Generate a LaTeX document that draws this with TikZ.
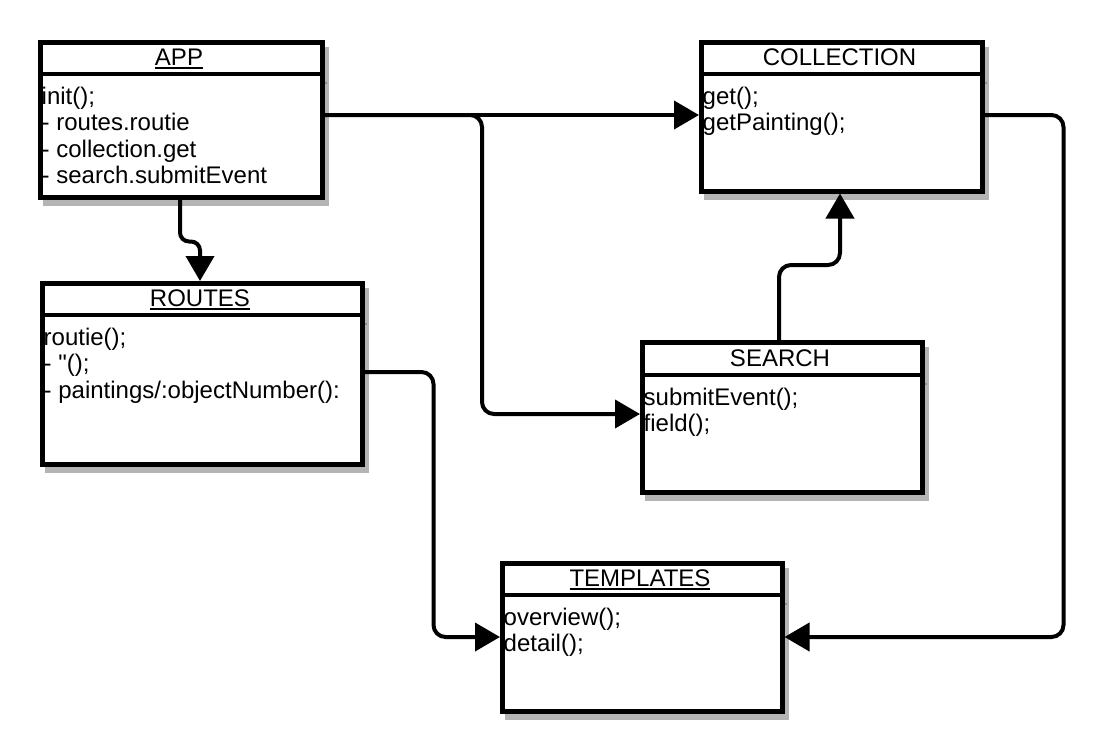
\documentclass[tikz,border=0pt]{standalone}
\usepackage{fontspec}
\newfontfamily\arialish{Liberation Sans}
\setmainfont{Liberation Sans}
\usetikzlibrary{arrows.meta,calc}
\definecolor{shadowgray}{RGB}{180,180,180}
\definecolor{sepgray}{RGB}{140,140,140}
\newcommand\titleul[1]{\setbox0\hbox{#1}\rlap{\rule[-3.5pt]{\wd0}{2pt}}\box0}
\newcommand\firstline{\rule{0pt}{20pt}}
% #1 name, #2 left, #3 top, #4 width, #5 height, #6 title height, #7 title, #8 body
\newcommand\umlclass[8]{%
  \draw[shade] (#2+7,#3+9) rectangle (#2+#4+7,#3+#5+9);
  \draw[sepshadow] (#2+#4+2,#3+#6+9) -- (#2+#4+7,#3+#6+9);
  \node[classbox, minimum width=#4, minimum height=#5] (#1) at (#2,#3) {};
  \draw[sepline] (#2,#3+#6) -- (#2+#4,#3+#6);
  \node[titletext] (#1-title) at (#2+#4/2,#3+#6/2+8.5) {#7};
  \node[bodytext] (#1-body) at (#2+3.5,#3+#6+10.5) {\firstline#8};
}
\begin{document}
\begin{tikzpicture}[x=1pt,y=-1pt,
  classbox/.style={draw=black, fill=white, line width=4.5pt, rectangle, inner sep=0pt,
    anchor=north west},
  shade/.style={draw=shadowgray, fill=shadowgray, line width=4.5pt},
  sepline/.style={line width=4.5pt, draw=black},
  sepshadow/.style={line width=2pt, draw=sepgray},
  titletext/.style={font=\arialish\fontsize{24}{26}\selectfont, inner sep=0pt, anchor=base},
  bodytext/.style={font=\arialish\fontsize{24}{26.2}\selectfont, inner sep=0pt, align=left, anchor=north west},
  conn/.style={line width=4pt, rounded corners=12pt, -{Triangle[length=25pt,width=28pt]}},
]
\useasboundingbox (0,0) rectangle (1109,750);

\umlclass{app}{38}{40}{282}{155}{34}{\titleul{APP}}{init();\\- routes.routie\\- collection.get\\- search.submitEvent}
\umlclass{collection}{699}{40}{281}{149}{34}{COLLECTION}{get();\\getPainting();}
\umlclass{routes}{40}{281}{320}{181}{34}{\titleul{ROUTES}}{routie();\\- "();\\- paintings/:objectNumber():}
\umlclass{search}{640}{340}{280}{150}{35}{SEARCH}{submitEvent();\\field();}
\umlclass{templates}{500}{561}{280}{148}{34}{\titleul{TEMPLATES}}{overview();\\detail();}

% APP -> ROUTES
\draw[conn, rounded corners=9pt] ($(app.south west)+(142,0)$) -- ++(0,42) -| ($(routes.north west)+(160,0)$);
% APP -> COLLECTION
\draw[conn] ($(app.north east)+(0,75)$) -- ($(collection.north west)+(0,75)$);
% APP -> SEARCH
\draw[conn] ($(app.north east)+(0,75)$) -| ($(search.north west)+(-158,74)$) -- ($(search.north west)+(0,74)$);
% SEARCH -> COLLECTION
\draw[conn] ($(search.north west)+(139,0)$) -- ++(0,-75) -| ($(collection.south west)+(141,0)$);
% COLLECTION -> TEMPLATES
\draw[conn] ($(collection.north east)+(0,75)$) -- ++(79,0) |- ($(templates.north east)+(0,76)$);
% ROUTES -> TEMPLATES
\draw[conn] ($(routes.north east)+(0,91)$) -- ++(69,0) |- ($(templates.north west)+(0,76)$);
\end{tikzpicture}
\end{document}
